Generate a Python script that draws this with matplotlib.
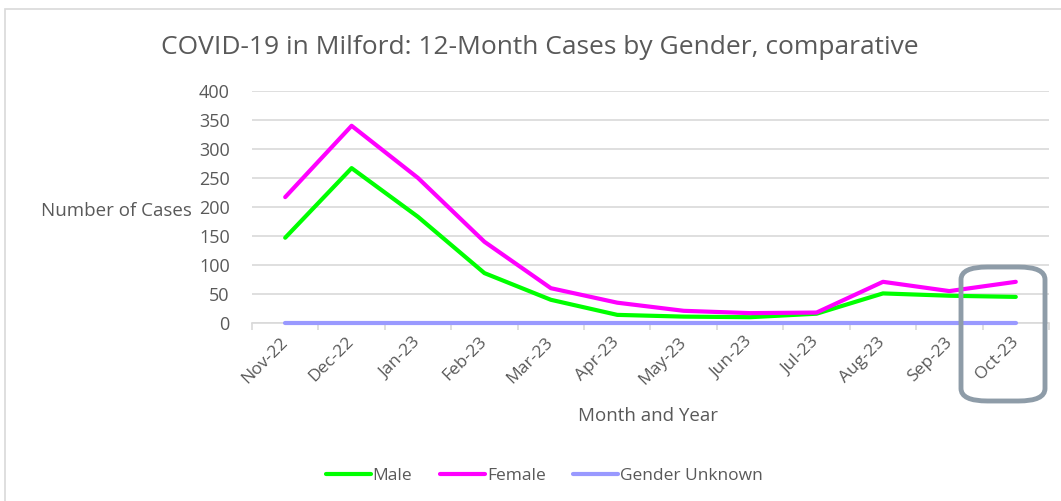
import matplotlib.pyplot as plt
from matplotlib.patches import FancyBboxPatch, Rectangle

plt.rcParams['font.family'] = ['Open Sans', 'DejaVu Sans']

months = ['Nov-22', 'Dec-22', 'Jan-23', 'Feb-23', 'Mar-23', 'Apr-23',
          'May-23', 'Jun-23', 'Jul-23', 'Aug-23', 'Sep-23', 'Oct-23']
male = [147, 267, 183, 86, 40, 14, 11, 10, 16, 51, 47, 45]
female = [217, 340, 250, 140, 60, 35, 21, 17, 18, 71, 55, 71]
unknown = [0, 0, 0, 0, 0, 0, 0, 0, 0, 0, 0, 0]

grey = '#595959'

fig = plt.figure(figsize=(10.61, 5.01), dpi=100)
ax = fig.add_axes([0.2375, 0.3553, 0.7512, 0.4631])

x = list(range(len(months)))
ax.plot(x, male, color='#00ff00', lw=3, label='Male', solid_capstyle='round')
ax.plot(x, female, color='#ff00ff', lw=3, label='Female', solid_capstyle='round')
ax.plot(x, unknown, color='#9999ff', lw=3, label='Gender Unknown',
        solid_capstyle='round', clip_on=False, zorder=3)

ax.set_xlim(-0.5, 11.5)
ax.set_ylim(0, 400)
ax.set_yticks(range(0, 401, 50))
ax.yaxis.grid(True, color='#d9d9d9', lw=1.2)
ax.set_axisbelow(True)
for s in ['top', 'right', 'left']:
    ax.spines[s].set_visible(False)
ax.spines['bottom'].set_color('#d9d9d9')
ax.spines['bottom'].set_linewidth(1.2)

ax.set_xticks(x)
ax.set_xticklabels(months, rotation=45, ha='right', va='center', rotation_mode='anchor')
ax.set_xticks([i - 0.5 for i in range(13)], minor=True)
ax.tick_params(axis='x', which='major', length=0, pad=12, labelsize=12.5, labelcolor=grey)
ax.tick_params(axis='x', which='minor', length=5, color='#d9d9d9', width=1.2)
ax.tick_params(axis='y', length=0, pad=16, labelsize=13, labelcolor=grey)

ax.set_xlabel('Month and Year', fontsize=13.5, color=grey, va='center')
ax.xaxis.set_label_coords(0.497, -0.40)
ax.set_ylabel('Number of Cases', fontsize=13.5, color=grey, rotation=0,
              ha='right', va='center')
ax.yaxis.set_label_coords(-0.075, 0.483)

fig.text(0.509, 0.906, 'COVID-19 in Milford: 12-Month Cases by Gender, comparative',
         ha='center', va='center', fontsize=19, color=grey)

fig.legend(loc='center', bbox_to_anchor=(0.513, 0.05), ncol=3, frameon=False,
           fontsize=12.5, labelcolor=grey, handlelength=2.6, handletextpad=0.1,
           columnspacing=1.6)

# chart frame
fig.patches.append(Rectangle((5 / 1061, -0.1), 1.2, 1 - 9 / 501 + 0.1,
                             transform=fig.transFigure, fill=False,
                             edgecolor='#d9d9d9', lw=1.2))

# hand-drawn highlight around last month
fig.patches.append(FancyBboxPatch((961 / 1061, 1 - 401 / 501), 84 / 1061, 134 / 501,
                                  boxstyle='round,pad=0,rounding_size=0.025',
                                  transform=fig.transFigure, fill=False,
                                  edgecolor='#8e9ca8', lw=3.5))

fig.savefig('out.png', dpi=100)
